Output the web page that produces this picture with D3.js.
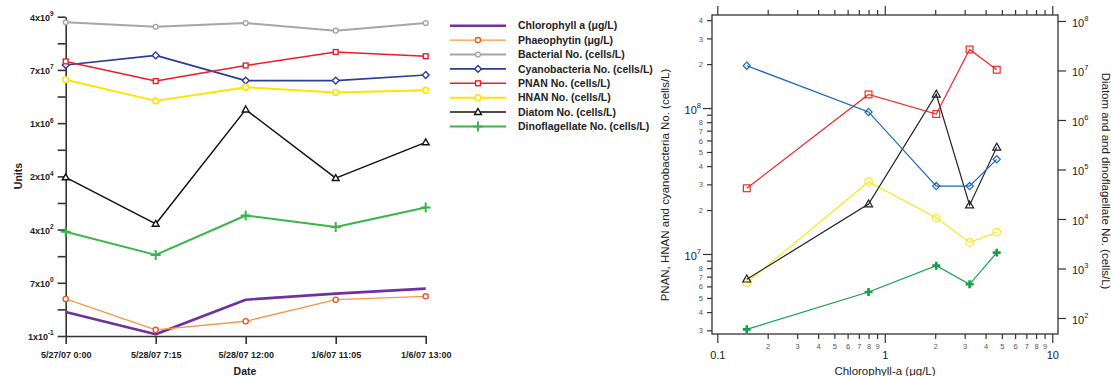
<!DOCTYPE html>
<html>
<head>
<meta charset="utf-8">
<script src="https://cdn.jsdelivr.net/npm/d3@7"></script>
<style>
  body { margin: 0; background: #fff; }
  svg { display: block; }
</style>
</head>
<body>
<svg id="chart" width="1111" height="376"></svg>
<script>
// ---- Sample data (one value per sampling time) ----
const sampleDates    = ["5/27/07 0:00", "5/28/07 7:15", "5/28/07 12:00", "1/6/07 11:05", "1/6/07 13:00"];
const chlorophyll    = [0.80, 0.15, 2.03, 3.21, 4.66];          // μg/L
const phaeophytin    = [2.14, 0.21, 0.40, 2.03, 2.62];          // μg/L
const bacteria       = [2.34e9, 1.68e9, 2.22e9, 1.25e9, 2.22e9]; // cells/L
const cyanobacteria  = [9.4e7, 1.95e8, 2.92e7, 2.92e7, 4.45e7];
const pnan           = [1.24e8, 2.82e7, 9.1e7, 2.52e8, 1.83e8];
const hnan           = [3.13e7, 6.36e6, 1.77e7, 1.2e7, 1.41e7];
const diatom         = [2.0e4, 606, 3.3e6, 1.9e4, 2.8e5];
const dinoflagellate = [335, 59, 1140, 480, 2090];

// Tick values and labels of the "Units" axis (mantissa, exponent)
const unitTickValues = [0.132, 7.23, 396, 2.17e4, 1.19e6, 6.53e7, 3.58e9];
const unitTickLabels = [["1", "-1"], ["7", "0"], ["4", "2"], ["2", "4"], ["1", "6"], ["7", "7"], ["4", "9"]];

// Right-hand axis decades of the scatter panel
const diatomAxisTicks = [1e2, 1e3, 1e4, 1e5, 1e6, 1e7, 1e8];

const svg = d3.select("#chart");
const FONT = "'Liberation Sans', Arial, Helvetica, sans-serif";

// ---------------- marker helper ----------------
function marker(g, type, x, y, s, stroke, fill, sw) {
  if (!type) return;
  if (type === "circle") {
    g.append("circle").attr("cx", x).attr("cy", y).attr("r", s)
      .attr("fill", fill).attr("stroke", stroke).attr("stroke-width", sw);
  } else if (type === "square") {
    g.append("rect").attr("x", x - s).attr("y", y - s).attr("width", 2 * s).attr("height", 2 * s)
      .attr("fill", fill).attr("stroke", stroke).attr("stroke-width", sw);
  } else if (type === "diamond") {
    g.append("path").attr("d", `M${x},${y - s}L${x + s},${y}L${x},${y + s}L${x - s},${y}Z`)
      .attr("fill", fill).attr("stroke", stroke).attr("stroke-width", sw);
  } else if (type === "triangle") {
    g.append("path").attr("d", `M${x},${y - s}L${x + s * 0.95},${y + s * 0.65}L${x - s * 0.95},${y + s * 0.65}Z`)
      .attr("fill", fill).attr("stroke", stroke).attr("stroke-width", sw);
  } else if (type === "plus") {
    g.append("path").attr("d", `M${x - s},${y}H${x + s}M${x},${y - s}V${y + s}`)
      .attr("stroke", stroke).attr("stroke-width", sw).attr("fill", "none");
  } else if (type === "cross") {
    g.append("path").attr("transform", `translate(${x},${y})`)
      .attr("d", d3.symbol(d3.symbolCross, s * s * 2.2)())
      .attr("fill", stroke);
  }
}

// =============== Time-series panel ===============
const xL = d3.scalePoint().domain(sampleDates).range([65.7, 425.7]);
const yL = d3.scaleLog()
  .domain([unitTickValues[0], unitTickValues[unitTickValues.length - 1]])
  .range([336, 16.7]);

const timeSeries = [
  { name: "Chlorophyll a (μg/L)",         values: chlorophyll,    color: "#7030a0", width: 2.6, marker: null },
  { name: "Phaeophytin (μg/L)",           values: phaeophytin,    color: "#f79646", width: 1.3, marker: "circle",   mColor: "#ef5527", size: 2.6, msw: 1.4 },
  { name: "Bacterial No. (cells/L)",      values: bacteria,       color: "#a6a6a6", width: 2.0, marker: "circle",   size: 2.4, msw: 1.4 },
  { name: "Cyanobacteria No. (cells/L)",  values: cyanobacteria,  color: "#2b3d98", width: 1.6, marker: "diamond",  size: 3.4, msw: 1.4 },
  { name: "PNAN No. (cells/L)",           values: pnan,           color: "#ee1c25", width: 1.5, marker: "square",   size: 2.4, msw: 1.4 },
  { name: "HNAN No. (cells/L)",           values: hnan,           color: "#ffe400", width: 2.0, marker: "circle",   size: 2.9, msw: 1.6 },
  { name: "Diatom No. (cells/L)",         values: diatom,         color: "#111111", width: 1.5, marker: "triangle", size: 3.6, msw: 1.4 },
  { name: "Dinoflagellate No. (cells/L)", values: dinoflagellate, color: "#3ab54a", width: 2.0, marker: "plus",     size: 5.0, msw: 2.0 }
];

const gL = svg.append("g");

// y axis with labelled ticks
const yAxisL = gL.append("g").attr("transform", "translate(65.7,0)")
  .call(d3.axisLeft(yL).tickValues(unitTickValues).tickSize(8).tickSizeOuter(0).tickPadding(4));
yAxisL.selectAll(".tick text").each(function (d, i) {
  const t = d3.select(this).text(null).attr("dy", "0.38em");
  t.append("tspan").text(unitTickLabels[i][0] + "x10");
  t.append("tspan").attr("dy", -4.5).attr("font-size", 6.5).text(unitTickLabels[i][1]);
});
// unlabelled intermediate ticks
const unitMidTicks = d3.pairs(unitTickValues, (a, b) => Math.sqrt(a * b));
gL.append("g").attr("transform", "translate(65.7,0)")
  .call(d3.axisLeft(yL).tickValues(unitMidTicks).tickSize(8).tickFormat(""))
  .select(".domain").remove();

// x axis
gL.append("g").attr("transform", "translate(0,336)")
  .call(d3.axisBottom(xL).tickSize(8).tickSizeOuter(0).tickPadding(8));

gL.selectAll(".domain, .tick line").attr("stroke", "#333").attr("stroke-width", 1.6);
gL.selectAll("text").attr("font-family", FONT).attr("font-weight", "bold")
  .attr("font-size", 9).attr("fill", "#222");

// axis titles
gL.append("text").attr("x", 245).attr("y", 375).attr("text-anchor", "middle")
  .attr("font-family", FONT).attr("font-weight", "bold").attr("font-size", 10.5).attr("fill", "#222").text("Date");
gL.append("text").attr("transform", "translate(22,176) rotate(-90)").attr("text-anchor", "middle")
  .attr("font-family", FONT).attr("font-weight", "bold").attr("font-size", 10.5).attr("fill", "#222").text("Units");

// series lines and markers
const lineL = d3.line().x((d, i) => xL(sampleDates[i])).y(d => yL(d));
timeSeries.forEach(s => {
  gL.append("path").attr("d", lineL(s.values)).attr("fill", "none")
    .attr("stroke", s.color).attr("stroke-width", s.width).attr("stroke-linejoin", "round");
});
timeSeries.forEach(s => {
  s.values.forEach((v, i) => marker(gL, s.marker, xL(sampleDates[i]), yL(v), s.size, s.mColor || s.color, "#fff", s.msw));
});

// legend
const legend = svg.append("g");
timeSeries.forEach((s, i) => {
  const y = 25.7 + i * 14.4;
  legend.append("line").attr("x1", 450).attr("x2", 506).attr("y1", y).attr("y2", y)
    .attr("stroke", s.color).attr("stroke-width", s.width);
  marker(legend, s.marker, 478, y, s.size, s.mColor || s.color, "#fff", s.msw);
  legend.append("text").attr("x", 518).attr("y", y + 3.7)
    .attr("font-family", FONT).attr("font-weight", "bold").attr("font-size", 10.5).attr("fill", "#222")
    .text(s.name);
});

// =============== Scatter panel vs chlorophyll ===============
const frame = { left: 712, right: 1058, top: 15, bottom: 334 };
const xR  = d3.scaleLog().domain([0.093, 10.82]).range([frame.left, frame.right]);
const yR1 = d3.scaleLog().domain([2.83e6, 4.34e8]).range([frame.bottom, frame.top]);
const yR2 = d3.scaleLog().domain([47.5, 1.32e8]).range([frame.bottom, frame.top]);

const isDecade = v => Math.abs(Math.log10(v) - Math.round(Math.log10(v))) < 1e-6;
const mantissa = v => Math.round(v / Math.pow(10, Math.floor(Math.log10(v) + 1e-9)));
const AX = "#333";
const gR = svg.append("g").attr("font-family", FONT).attr("fill", AX);

// bottom axis with minor labels
const xTicks = xR.ticks();
const axBottom = gR.append("g").attr("transform", `translate(0,${frame.bottom})`)
  .call(d3.axisBottom(xR).tickValues(xTicks).tickSizeOuter(0)
    .tickFormat(d => isDecade(d) ? d3.format("~g")(d) : String(mantissa(d))));
axBottom.selectAll(".tick line").attr("y2", d => isDecade(d) ? 9 : 5);
axBottom.selectAll(".tick text").attr("dy", null)
  .attr("y", d => isDecade(d) ? 25 : 14.5)
  .attr("font-size", d => isDecade(d) ? 11 : 7.5)
  .attr("fill", d => isDecade(d) ? "#222" : "#555");

// top axis: ticks only
const axTop = gR.append("g").attr("transform", `translate(0,${frame.top})`)
  .call(d3.axisTop(xR).tickValues(xTicks).tickFormat(""));
axTop.selectAll(".tick line").attr("y2", d => isDecade(d) ? -9 : -5);

// left axis
const axLeft = gR.append("g").attr("transform", `translate(${frame.left},0)`)
  .call(d3.axisLeft(yR1).tickValues(yR1.ticks()).tickFormat(""));
axLeft.selectAll(".tick line").attr("x2", d => isDecade(d) ? -9 : -5);
axLeft.selectAll(".tick text").attr("dy", null).attr("x", -9).each(function (d) {
  const t = d3.select(this);
  if (isDecade(d)) {
    t.attr("x", -11).attr("y", 5.5).attr("font-size", 11).attr("fill", "#222");
    t.append("tspan").text("10");
    t.append("tspan").attr("dy", -6).attr("font-size", 7.5).text(Math.round(Math.log10(d)));
  } else {
    const m = mantissa(d);
    t.attr("y", 2.6).attr("font-size", 7.5).attr("fill", "#555").text(m < 9 ? m : "");
  }
});

// right axis
const axRight = gR.append("g").attr("transform", `translate(${frame.right},0)`)
  .call(d3.axisRight(yR2).tickValues(diatomAxisTicks).tickSize(8).tickFormat(""));
axRight.selectAll(".tick text").attr("dy", null).attr("x", 14).attr("y", 5.5)
  .attr("font-size", 11).attr("fill", "#222").each(function (d) {
    const t = d3.select(this);
    t.append("tspan").text("10");
    t.append("tspan").attr("dy", -6).attr("font-size", 7.5).text(Math.round(Math.log10(d)));
  });

gR.selectAll(".domain").remove();
gR.selectAll(".tick line").attr("stroke", AX).attr("stroke-width", 1.2);
gR.selectAll("text").attr("font-family", FONT);

gR.append("rect").attr("x", frame.left).attr("y", frame.top)
  .attr("width", frame.right - frame.left).attr("height", frame.bottom - frame.top)
  .attr("fill", "none").attr("stroke", AX).attr("stroke-width", 1.3);

// axis titles
gR.append("text").attr("x", 885).attr("y", 375).attr("text-anchor", "middle")
  .attr("font-size", 11.5).attr("fill", "#222").text("Chlorophyll-a (μg/L)");
gR.append("text").attr("transform", "translate(669,185) rotate(-90)").attr("text-anchor", "middle")
  .attr("font-size", 11.5).attr("fill", "#222").text("PNAN,  HNAN and cyanobacteria No. (cells/L)");
gR.append("text").attr("transform", "translate(1102,181) rotate(90)").attr("text-anchor", "middle")
  .attr("font-size", 11.5).attr("fill", "#222").text("Diatom and and dinoflagellate No. (cells/L)");

// series against chlorophyll (points joined in order of chlorophyll)
const order = d3.sort(d3.range(chlorophyll.length), i => chlorophyll[i]);
const scatterSeries = [
  { values: hnan,           y: yR1, color: "#f7e81c", marker: "circle",   size: 3.8 },
  { values: diatom,         y: yR2, color: "#222222", marker: "triangle", size: 4.2 },
  { values: dinoflagellate, y: yR2, color: "#16a04a", marker: "cross",    size: 4.0 },
  { values: pnan,           y: yR1, color: "#ee2a2a", marker: "square",   size: 3.4 },
  { values: cyanobacteria,  y: yR1, color: "#1766bd", marker: "diamond",  size: 3.6 }
];
const gS = svg.append("g");
scatterSeries.forEach(s => {
  const line = d3.line().x(i => xR(chlorophyll[i])).y(i => s.y(s.values[i]));
  gS.append("path").attr("d", line(order)).attr("fill", "none")
    .attr("stroke", s.color).attr("stroke-width", 1.2);
  order.forEach(i => marker(gS, s.marker, xR(chlorophyll[i]), s.y(s.values[i]), s.size, s.color, "none", 1.2));
});
</script>
</body>
</html>
